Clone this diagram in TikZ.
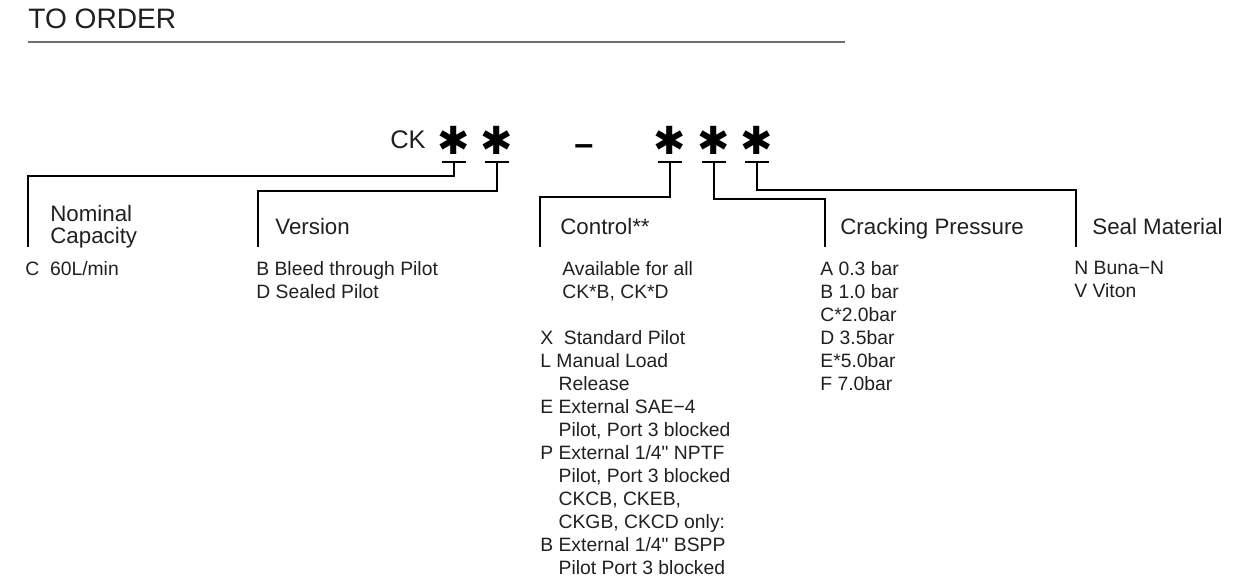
\documentclass[tikz,border=0pt]{standalone}
\usepackage{fontspec}
\setmainfont{Liberation Sans}
\newfontfamily\plainsans{Liberation Sans}
\newfontfamily\symfont{DejaVu Sans}
\newcommand\inchmark{{\plainsans"}}
\usetikzlibrary{positioning}
\definecolor{OrdInk}{HTML}{231F20}
\definecolor{OrdRule}{HTML}{6D6E71}

\begin{document}
\begin{tikzpicture}[x=0.02cm,y=-0.02cm,
    colhead/.style={anchor=north west,inner sep=0pt,align=left,text=OrdInk,
      font=\fontsize{12.7}{12.3}\selectfont},
    colbody/.style={anchor=north west,inner sep=0pt,align=left,text=OrdInk,
      font=\fontsize{11}{13.1}\selectfont},
    codestar/.style={inner sep=0pt,font=\symfont\fontsize{22}{22}\selectfont},
    underbar/.style={line width=1.1pt},
    link/.style={line width=1.5pt,line join=miter}
  ]
  \useasboundingbox (0,0) rectangle (1240,586);
  % heading
  \node[anchor=base west,inner sep=0pt,text=OrdInk,
    font=\fontsize{16}{18}\selectfont] (title) at (28,28) {TO ORDER};
  \draw[line width=1.1pt,OrdRule] (28,42) -- (845,42);
  % model code
  \node[anchor=base east,inner sep=0pt,text=OrdInk,
    font=\fontsize{14.5}{14.5}\selectfont] (ck) at (426,148) {CK};
  \node[anchor=base west,inner sep=0pt,
    font=\bfseries\fontsize{19.5}{19.5}\selectfont] (dash) at (574,155) {–};
  \foreach \n/\x in {1/454,2/497,3/670,4/714,5/757}{
    \node[codestar] (st\n) at (\x,140) {✱};
    \coordinate (b\n) at (\x,162);
    \draw[underbar] (b\n) ++(-12,0) -- ++(24,0);
  }
  % column ends
  \coordinate (capEnd) at (28,247);
  \coordinate (verEnd) at (258,247);
  \coordinate (ctlEnd) at (540,247);
  \coordinate (crkEnd) at (825,247);
  \coordinate (sealEnd) at (1076,247);
  \draw[link] (b1) -- ++(0,14) -| (capEnd);
  \draw[link] (b2) -- ++(0,29) -| (verEnd);
  \draw[link] (b3) -- ++(0,35) -| (ctlEnd);
  \draw[link] (b4) -- ++(0,37) -| (crkEnd);
  \draw[link] (b5) -- ++(0,28) -| (sealEnd);
  % column heads
  \node[colhead] (capHead) at (50,205) {Nominal\\Capacity};
  \node[colhead] (verHead) at (275,218) {Version};
  \node[colhead] (ctlHead) at (560,218) {Control**};
  \node[colhead] (crkHead) at (840,218) {Cracking Pressure};
  \node[colhead] (sealHead) at (1092,218) {Seal Material};
  % options
  \node[colbody] (capBody) at (25,261) {C\ \ 60L/min};
  \node[colbody] (verBody) at (256,261) {B Bleed through Pilot\\D Sealed Pilot};
  \node[colbody] (ctlBody) at (540,261) {%
    \hspace*{12.5pt}Available for all\\
    \hspace*{12.5pt}CK*B, CK*D\\[13.1pt]
    X\ \ Standard Pilot\\
    L Manual Load\\
    \phantom{E} Release\\
    E External SAE−4\\
    \phantom{E} Pilot, Port 3 blocked\\
    P External 1/4\inchmark{} NPTF\\
    \phantom{E} Pilot, Port 3 blocked\\
    \phantom{E} CKCB, CKEB,\\
    \phantom{E} CKGB, CKCD only:\\
    B External 1/4\inchmark{} BSPP\\
    \phantom{E} Pilot Port 3 blocked};
  \node[colbody] (crkBody) at (820,261) {A 0.3 bar\\B 1.0 bar\\C*2.0bar\\D 3.5bar\\E*5.0bar\\F 7.0bar};
  \node[colbody] (sealBody) at (1074,261) {N Buna−N\\V Viton};
\end{tikzpicture}
\end{document}
